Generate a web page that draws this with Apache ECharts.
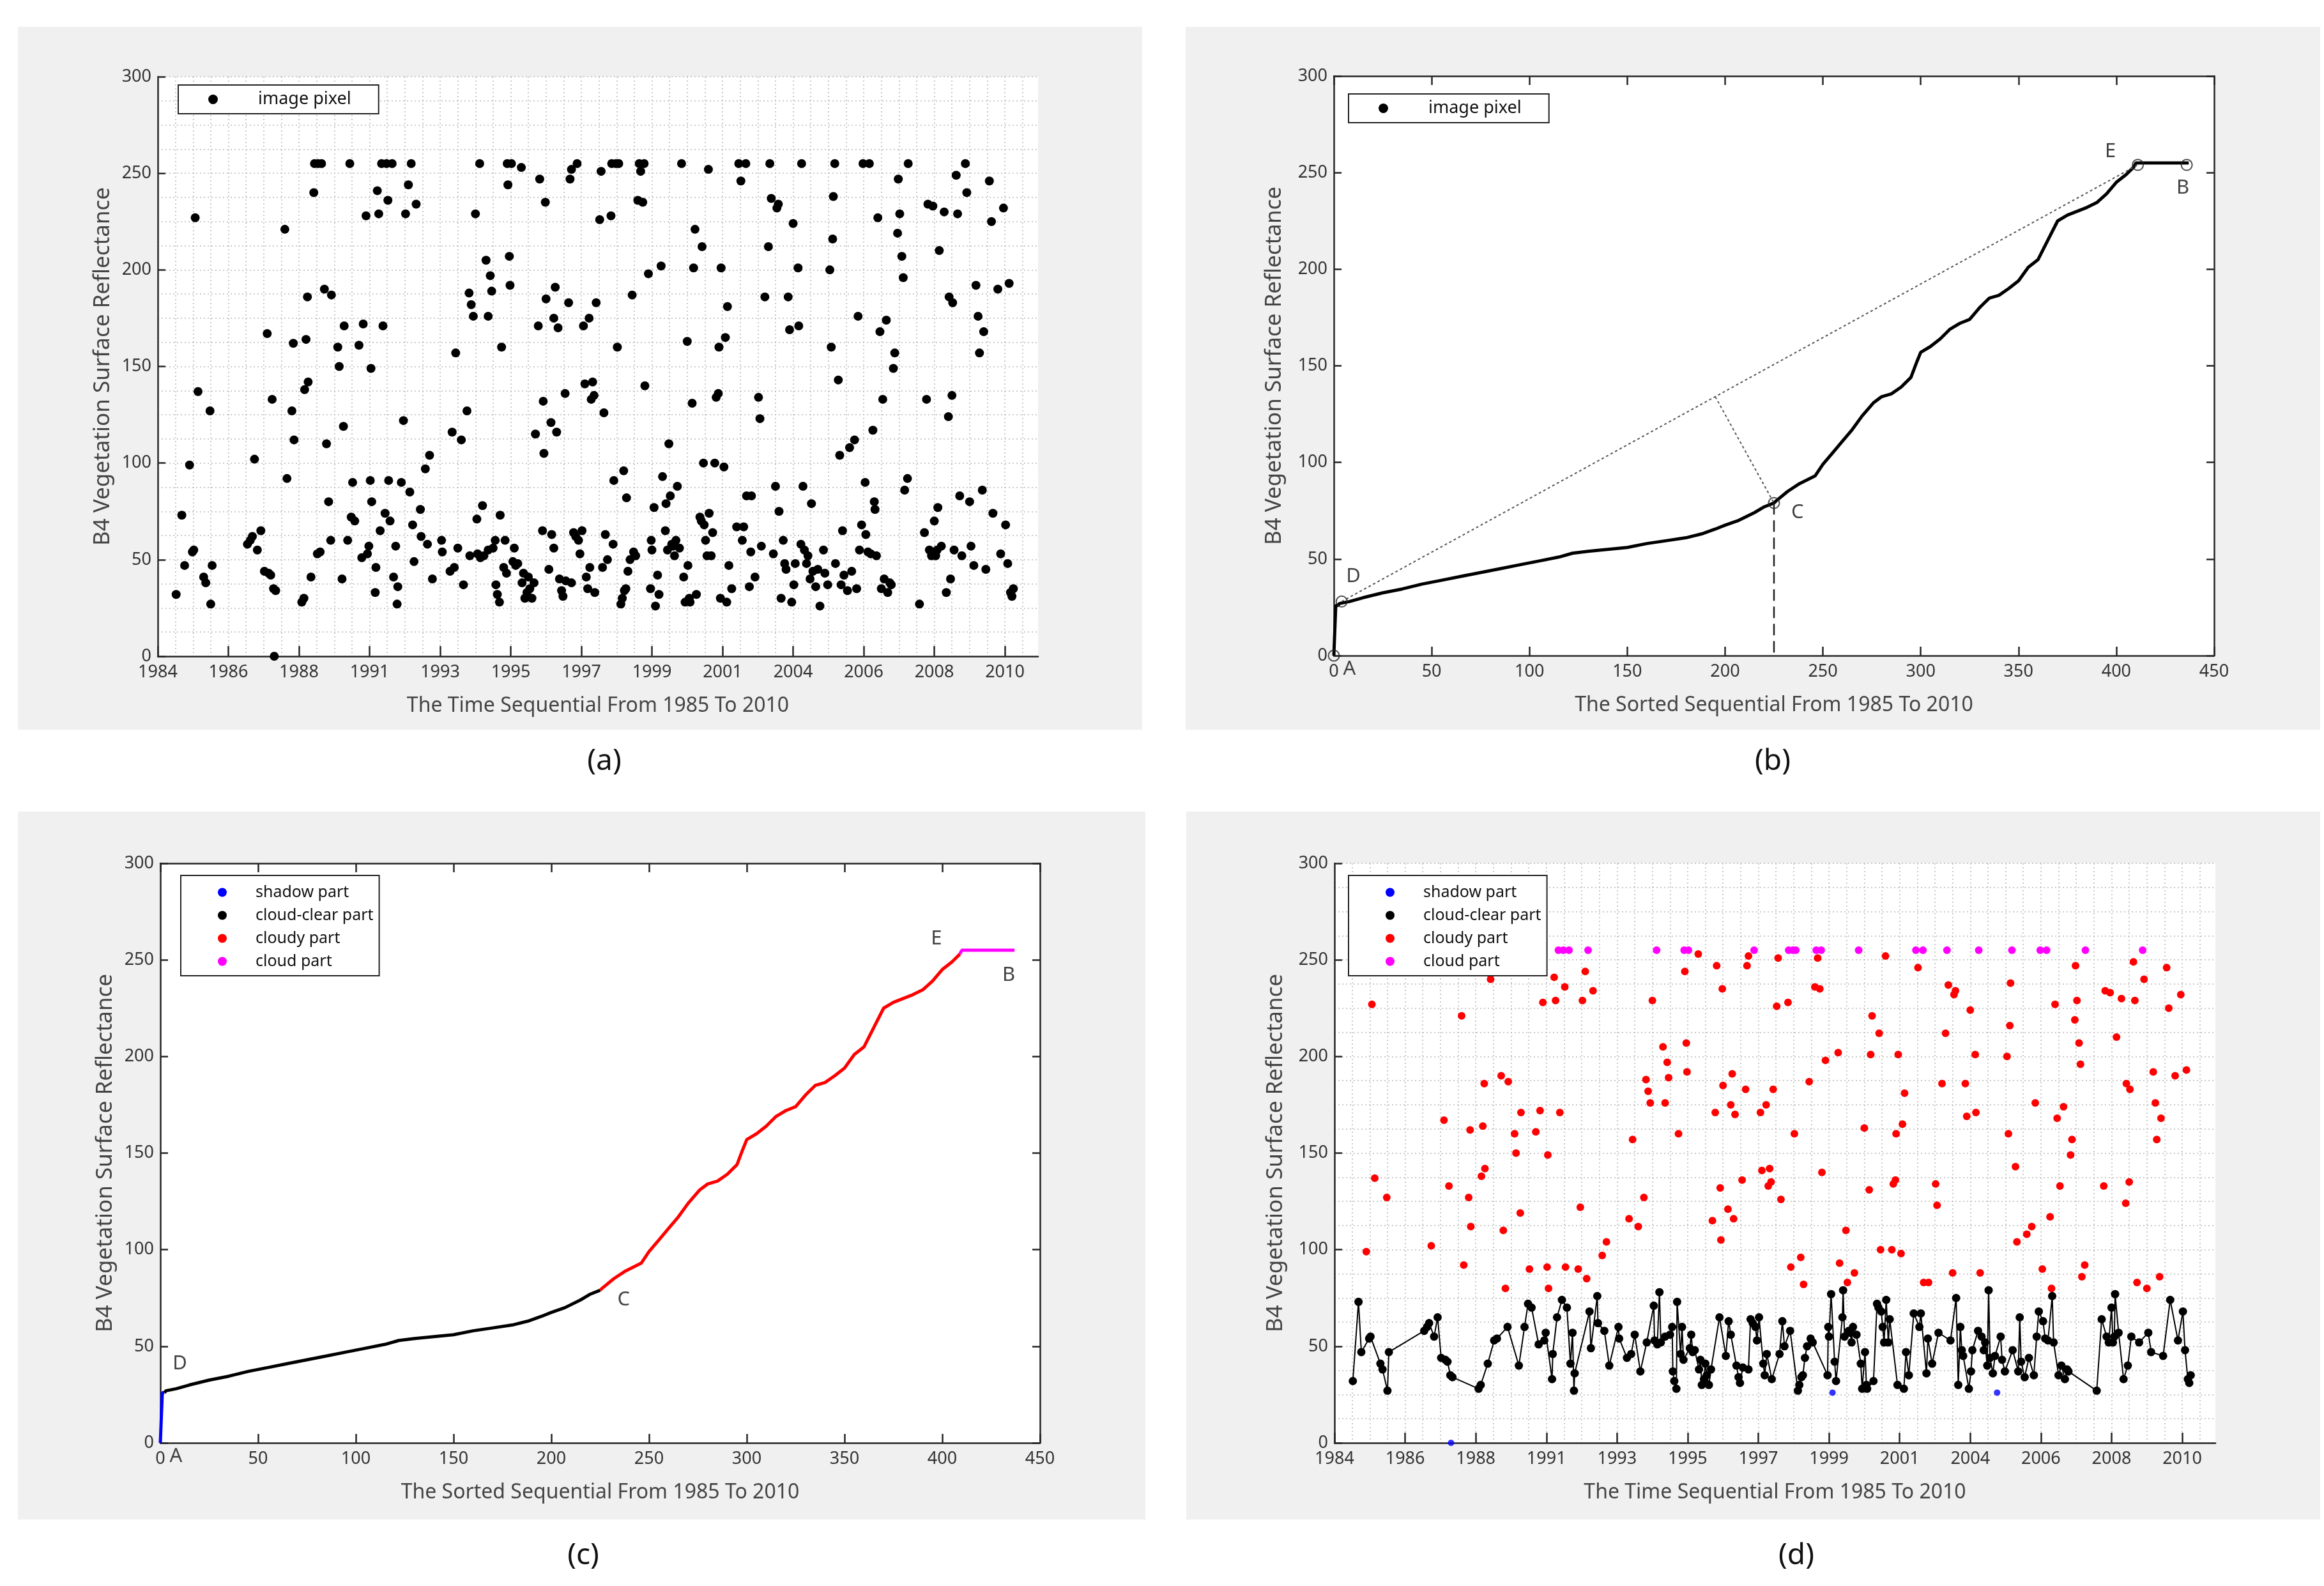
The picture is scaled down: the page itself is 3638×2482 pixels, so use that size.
<!DOCTYPE html>
<html>
<head>
<meta charset="utf-8">
<script src="https://cdn.jsdelivr.net/npm/echarts@6/dist/echarts.min.js"></script>
<style>
  html, body { margin: 0; background: #fff; }
  #chart { width: 3638px; height: 2482px; }
</style>
</head>
<body>
<div id="chart"></div>
<script>
// tick labels of the time axis (panels a and d)
const yearLabels = ['1984', '1986', '1988', '1991', '1993', '1995', '1997', '1999', '2001', '2004', '2006', '2008', '2010'];

// position of each image on the time axis (in tick steps) and its B4 reflectance
const tPos = [
  0.26, 0.34, 0.38, 0.45, 0.49, 0.51, 0.53, 0.57, 0.65, 0.68, 0.74, 0.75, 0.77,
  1.27, 1.31, 1.34, 1.37, 1.41, 1.46, 1.51, 1.55, 1.57, 1.60, 1.62, 1.64, 1.65, 1.67, 1.80, 1.83, 1.90, 1.92, 1.93,
  2.04, 2.07, 2.08, 2.10, 2.12, 2.13, 2.17, 2.21, 2.22, 2.26, 2.27, 2.30, 2.32, 2.36, 2.39, 2.42, 2.45, 2.46, 2.55, 2.57, 2.61, 2.63, 2.64, 2.69, 2.72, 2.74, 2.76, 2.79, 2.85, 2.89, 2.91, 2.95, 2.97, 2.99,
  3.01, 3.02, 3.03, 3.08, 3.09, 3.11, 3.13, 3.15, 3.17, 3.19, 3.22, 3.24, 3.26, 3.27, 3.29, 3.32, 3.34, 3.37, 3.39, 3.40, 3.45, 3.48, 3.51, 3.55, 3.57, 3.59, 3.61, 3.63, 3.66, 3.72, 3.73, 3.79, 3.82, 3.85, 3.89,
  4.02, 4.03, 4.14, 4.17, 4.20, 4.22, 4.25, 4.30, 4.33, 4.38, 4.41, 4.42, 4.44, 4.47, 4.50, 4.52, 4.53, 4.56, 4.57, 4.60, 4.62, 4.65, 4.68, 4.68, 4.71, 4.73, 4.75, 4.78, 4.79, 4.81, 4.84, 4.85, 4.87, 4.90, 4.92, 4.94, 4.95, 4.96, 4.98, 4.99,
  5.01, 5.03, 5.05, 5.07, 5.10, 5.15, 5.16, 5.18, 5.20, 5.23, 5.25, 5.27, 5.30, 5.33, 5.35, 5.39, 5.41, 5.45, 5.46, 5.47, 5.49, 5.50, 5.54, 5.57, 5.58, 5.61, 5.61, 5.63, 5.65, 5.67, 5.69, 5.72, 5.74, 5.77, 5.78, 5.82, 5.84, 5.86, 5.86, 5.89, 5.92, 5.94, 5.96, 5.98,
  6.01, 6.03, 6.05, 6.07, 6.09, 6.11, 6.12, 6.14, 6.16, 6.18, 6.19, 6.21, 6.26, 6.28, 6.30, 6.32, 6.34, 6.37, 6.42, 6.43, 6.45, 6.46, 6.49, 6.51, 6.53, 6.56, 6.58, 6.60, 6.61, 6.63, 6.64, 6.66, 6.69, 6.72, 6.74, 6.77, 6.80, 6.82, 6.84, 6.87, 6.89, 6.90, 6.95, 6.98, 6.99,
  7.00, 7.03, 7.05, 7.08, 7.10, 7.13, 7.15, 7.19, 7.20, 7.22, 7.24, 7.26, 7.28, 7.30, 7.32, 7.34, 7.36, 7.39, 7.42, 7.45, 7.47, 7.50, 7.51, 7.53, 7.54, 7.57, 7.59, 7.61, 7.63, 7.68, 7.70, 7.71, 7.73, 7.74, 7.76, 7.78, 7.80, 7.81, 7.84, 7.86, 7.89, 7.91, 7.94, 7.95, 7.97, 7.98,
  8.02, 8.04, 8.06, 8.07, 8.09, 8.13, 8.20, 8.23, 8.26, 8.28, 8.30, 8.33, 8.34, 8.38, 8.40, 8.41, 8.46, 8.51, 8.53, 8.55, 8.60, 8.65, 8.67, 8.69, 8.72, 8.75, 8.77, 8.79, 8.80, 8.83, 8.86, 8.88, 8.90, 8.93, 8.95, 8.98,
  9.00, 9.01, 9.03, 9.07, 9.08, 9.11, 9.12, 9.14, 9.16, 9.19, 9.21, 9.24, 9.26, 9.28, 9.32, 9.35, 9.38, 9.43, 9.45, 9.49, 9.52, 9.54, 9.56, 9.57, 9.59, 9.60, 9.64, 9.66, 9.68, 9.70, 9.72, 9.77, 9.80, 9.83, 9.87, 9.90, 9.92, 9.94, 9.97, 9.99,
  10.02, 10.03, 10.06, 10.08, 10.10, 10.13, 10.15, 10.16, 10.18, 10.20, 10.23, 10.25, 10.27, 10.29, 10.32, 10.34, 10.37, 10.39, 10.42, 10.44, 10.48, 10.49, 10.51, 10.54, 10.56, 10.58, 10.62, 10.63, 10.79, 10.86, 10.89, 10.91, 10.93, 10.96, 10.98,
  11.00, 11.02, 11.04, 11.05, 11.07, 11.10, 11.14, 11.17, 11.20, 11.21, 11.23, 11.25, 11.26, 11.28, 11.31, 11.33, 11.36, 11.39, 11.44, 11.46, 11.50, 11.52, 11.56, 11.59, 11.62, 11.64, 11.68, 11.70, 11.73, 11.78, 11.81, 11.83, 11.90, 11.94, 11.98, 12.01, 12.04, 12.06, 12.08, 12.10, 12.12
];
const refl = [
  32, 73, 47, 99, 54, 55, 227, 137, 41, 38, 127, 27, 47,
  58, 60, 62, 102, 55, 65, 44, 167, 43, 42, 133, 35, 0, 34, 221, 92, 127, 162, 112,
  28, 30, 138, 164, 186, 142, 41, 240, 255, 53, 255, 54, 255, 190, 110, 80, 60, 187, 160, 150, 40, 119, 171, 60, 255, 72, 90, 70, 161, 51, 172, 228, 53, 57,
  91, 149, 80, 33, 46, 241, 229, 65, 255, 171, 74, 255, 236, 91, 70, 255, 41, 57, 27, 36, 90, 122, 229, 244, 85, 255, 68, 49, 234, 76, 62, 97, 58, 104, 40,
  60, 54, 44, 116, 46, 157, 56, 112, 37, 127, 188, 52, 182, 176, 229, 71, 53, 255, 51, 78, 52, 205, 176, 55, 197, 189, 56, 60, 37, 32, 28, 73, 160, 46, 60, 43, 255, 244, 207, 192,
  255, 49, 56, 47, 48, 253, 38, 43, 30, 33, 41, 35, 30, 38, 115, 171, 247, 65, 132, 105, 235, 185, 45, 121, 63, 175, 56, 191, 116, 170, 40, 34, 31, 136, 39, 183, 247, 252, 38, 64, 62, 255, 60, 53,
  65, 171, 141, 41, 35, 175, 46, 133, 142, 135, 33, 183, 226, 251, 46, 126, 63, 50, 228, 255, 58, 91, 255, 160, 255, 27, 30, 96, 34, 35, 82, 44, 50, 187, 54, 52, 236, 255, 251, 235, 255, 140, 198, 35, 60,
  55, 77, 26, 42, 32, 202, 93, 65, 79, 55, 110, 83, 58, 57, 52, 60, 88, 56, 255, 41, 28, 163, 47, 30, 28, 131, 201, 221, 32, 72, 70, 212, 100, 68, 60, 52, 252, 74, 52, 64, 100, 134, 136, 160, 30, 201,
  98, 165, 28, 181, 47, 35, 67, 255, 246, 60, 67, 255, 83, 36, 54, 83, 41, 134, 123, 57, 186, 212, 255, 237, 53, 88, 232, 234, 75, 30, 60, 48, 45, 186, 169, 28,
  224, 37, 48, 201, 171, 58, 255, 88, 55, 48, 52, 40, 79, 44, 36, 45, 26, 55, 43, 37, 200, 160, 216, 238, 255, 48, 143, 104, 37, 65, 42, 34, 108, 44, 112, 35, 176, 55, 68, 255,
  90, 63, 54, 255, 53, 117, 80, 76, 52, 227, 168, 35, 133, 40, 174, 33, 38, 37, 149, 157, 219, 247, 229, 207, 196, 86, 92, 255, 27, 64, 133, 234, 55, 52, 233,
  70, 52, 55, 77, 210, 57, 230, 33, 124, 186, 40, 135, 183, 55, 249, 229, 83, 52, 255, 240, 80, 57, 47, 192, 176, 157, 86, 168, 45, 246, 225, 74, 190, 53, 232, 68, 48, 193, 33, 31, 35
];

// sorted sequence (panels b and c)
const sortIdx = [0, 1, 2, 3, 8, 15, 25, 35, 45, 55, 65, 75, 85, 95, 105, 115, 122, 130, 140, 150, 160, 170, 180, 188, 195, 200, 207, 215, 220, 225,
  226, 232, 238, 246, 250, 255, 260, 265, 270, 276, 280, 285, 290, 295, 298, 300, 305, 310, 315, 320, 325, 330, 335, 340, 345, 350, 355, 360, 365, 370,
  375, 380, 385, 390, 395, 400, 405, 409, 410, 437];
const sortVal = [0, 26, 26, 27, 28, 30, 32.5, 34.5, 37, 39, 41, 43, 45, 47, 49, 51, 53, 54, 55, 56, 58, 59.5, 61, 63, 65.5, 67.5, 70, 74, 77, 79,
  80, 85, 89, 93, 99, 105, 111, 117, 124, 131, 134, 135.5, 139, 144, 152, 157, 160, 164, 169, 172, 174, 180, 185, 186.5, 190, 194, 201, 205, 215, 225,
  228, 230, 232, 234.5, 239, 245, 249, 253, 255, 255];

// class thresholds read at D, C and E
const D_VAL = 27, C_VAL = 80, E_VAL = 255;
const partNames = ['shadow part', 'cloud-clear part', 'cloudy part', 'cloud part'];
const partColors = ['#0000ff', '#000000', '#ff0000', '#ff00ff'];

// key points of panel b
const keyX = [0, 4, 225, 411, 436];
const keyY = [0, 28, 79, 254, 254];
const footX = 195, footY = 134;
const labName = ['A', 'D', 'C', 'E', 'B'];
const labX = [8, 10, 237, 397, 434];
const labY = [-7, 41, 74, 261, 242];

const FONT = 'Noto Sans';
const AX = '#262626';
const dotted = { color: '#b9b9b9', type: [2, 4], width: 1.5 };

function classOf(v) {
  if (v < D_VAL) return 0;
  if (v < C_VAL) return 1;
  if (v < E_VAL) return 2;
  return 3;
}

function axisBase(gi, pos) {
  return {
    type: 'value', gridIndex: gi, position: pos,
    axisLine: { show: true, onZero: false, lineStyle: { color: AX, width: 2.5 } },
    axisTick: { show: true, inside: true, length: 14, lineStyle: { color: AX, width: 2.5 } },
    axisLabel: { show: true, color: '#333', fontFamily: FONT, fontSize: 27, margin: 12 },
    splitLine: { show: false },
    nameLocation: 'middle',
    nameTextStyle: { color: '#444', fontFamily: FONT, fontSize: 32 }
  };
}

function timeAxis(gi) {
  const a = axisBase(gi, 'bottom');
  a.min = 0; a.max = 12.47; a.interval = 1;
  a.name = 'The Time Sequential From 1985 To 2010';
  a.nameGap = 62;
  a.axisTick.length = 16;
  a.axisTick.customValues = yearLabels.map((_, i) => i);
  a.axisLabel.customValues = yearLabels.map((_, i) => i);
  a.axisLabel.formatter = function (v) {
    const i = Math.round(v);
    return Math.abs(v - i) < 1e-6 && yearLabels[i] ? yearLabels[i] : '';
  };
  a.splitLine = { show: true, lineStyle: dotted };
  a.minorTick = { show: false, splitNumber: 4 };
  a.minorSplitLine = { show: true, lineStyle: dotted };
  return a;
}

function sortedAxis(gi, pos) {
  const a = axisBase(gi, pos);
  a.min = 0; a.max = 450; a.interval = 50;
  if (pos === 'bottom') {
    a.name = 'The Sorted Sequential From 1985 To 2010';
    a.nameGap = 62;
  } else {
    a.axisLabel.show = false;
  }
  return a;
}

function reflAxis(gi, pos, gap, grid) {
  const a = axisBase(gi, pos);
  a.min = 0; a.max = 300; a.interval = 50;
  a.axisTick.length = 12;
  if (pos === 'left') {
    a.name = 'B4 Vegetation Surface Reflectance';
    a.nameGap = gap;
    a.nameTextStyle.fontSize = 35;
    a.axisLabel.margin = 10;
  } else {
    a.axisLabel.show = false;
  }
  if (grid) {
    a.splitLine = { show: true, lineStyle: dotted };
    a.minorTick = { show: false, splitNumber: 4 };
    a.minorSplitLine = { show: true, lineStyle: dotted };
  }
  return a;
}

function legendBox(left, top, names, dot, pad, textGap, fs, gap) {
  return {
    left: left, top: top, orient: 'vertical', selectedMode: false,
    data: names.map(n => ({ name: n, icon: 'circle' })),
    itemWidth: dot, itemHeight: dot, itemGap: gap, padding: pad,
    borderColor: '#222', borderWidth: 2, backgroundColor: '#fff',
    textStyle: { fontFamily: FONT, fontSize: fs, color: '#111', padding: [0, 0, 0, textGap] }
  };
}

const pixelPts = tPos.map((t, i) => [t, refl[i]]);
const sortedPts = sortIdx.map((x, i) => [x, sortVal[i]]);

// panel d: split by class, clear points joined in time order
const partPts = [[], [], [], []];
pixelPts.forEach(p => partPts[classOf(p[1])].push(p));
partPts[1].sort((a, b) => a[0] - b[0]);

// panel c: sorted curve split into coloured runs
function sortedRun(k) {
  let f = -1, l = -1;
  sortedPts.forEach((p, i) => { if (classOf(p[1]) === k) { if (f < 0) f = i; l = i; } });
  return sortedPts.slice(Math.max(f - 1, 0), l + 1);
}

function letters(xi, yi) {
  return {
    type: 'scatter', xAxisIndex: xi, yAxisIndex: yi, clip: false, z: 10,
    symbolSize: 1, itemStyle: { color: 'rgba(0,0,0,0)' }, silent: true,
    label: { show: true, position: 'inside', formatter: '{b}', fontFamily: FONT, fontSize: 31, color: '#111' },
    data: labName.map((n, i) => ({ name: n, value: [labX[i], labY[i]] }))
  };
}

const series = [];
// (a)
series.push({
  name: 'image pixel', type: 'scatter', xAxisIndex: 0, yAxisIndex: 0, clip: false,
  symbolSize: 14, itemStyle: { color: '#000', opacity: 1 }, data: pixelPts
});
// (b)
series.push({
  name: 'image pixel', type: 'line', xAxisIndex: 1, yAxisIndex: 1, showSymbol: false,
  itemStyle: { color: '#000' }, lineStyle: { color: '#000', width: 5 }, data: sortedPts, z: 3
});
series.push({
  type: 'line', xAxisIndex: 1, yAxisIndex: 1, showSymbol: false, silent: true,
  lineStyle: { color: '#555', width: 2, type: [4, 4] },
  data: [[keyX[1], keyY[1]], [keyX[3], keyY[3]]]
});
series.push({
  type: 'line', xAxisIndex: 1, yAxisIndex: 1, showSymbol: false, silent: true,
  lineStyle: { color: '#555', width: 2, type: [4, 4] },
  data: [[footX, footY], [keyX[2], keyY[2]]]
});
series.push({
  type: 'line', xAxisIndex: 1, yAxisIndex: 1, showSymbol: false, silent: true,
  lineStyle: { color: '#222', width: 2.5, type: [18, 9] },
  data: [[keyX[2], keyY[2]], [keyX[2], 0]]
});
series.push({
  type: 'scatter', xAxisIndex: 1, yAxisIndex: 1, clip: false, z: 5, symbolSize: 17,
  itemStyle: { color: 'rgba(255,255,255,0)', borderColor: '#222', borderWidth: 2 },
  data: keyX.map((x, i) => [x, keyY[i]])
});
series.push(letters(1, 1));
// (c)
partNames.forEach((n, k) => {
  series.push({
    name: n, type: 'line', xAxisIndex: 3, yAxisIndex: 3, showSymbol: false, clip: false,
    itemStyle: { color: partColors[k] }, lineStyle: { color: partColors[k], width: 5 },
    data: sortedRun(k)
  });
});
series.push(letters(3, 3));
// (d)
series.push({
  name: partNames[0], type: 'scatter', xAxisIndex: 5, yAxisIndex: 5, clip: false,
  symbolSize: 10, itemStyle: { color: partColors[0] }, data: partPts[0]
});
series.push({
  name: partNames[1], type: 'line', xAxisIndex: 5, yAxisIndex: 5, clip: false,
  symbol: 'circle', symbolSize: 13, showAllSymbol: true,
  itemStyle: { color: partColors[1] }, lineStyle: { color: '#000', width: 2 }, data: partPts[1]
});
series.push({
  name: partNames[2], type: 'scatter', xAxisIndex: 5, yAxisIndex: 5, clip: false,
  symbolSize: 12, itemStyle: { color: partColors[2], opacity: 1 }, data: partPts[2]
});
series.push({
  name: partNames[3], type: 'scatter', xAxisIndex: 5, yAxisIndex: 5, clip: false,
  symbolSize: 12, itemStyle: { color: partColors[3], opacity: 1 }, data: partPts[3]
});

function panelBg(x, y, w, h) {
  return { type: 'rect', z: -10, silent: true, shape: { x: x, y: y, width: w, height: h }, style: { fill: '#f0f0f0' } };
}
function caption(txt, x, y) {
  return { type: 'text', z: 10, x: x, y: y, silent: true,
    style: { text: txt, fontFamily: FONT, fontSize: 46, fill: '#111', align: 'center', verticalAlign: 'middle' } };
}

const chart = echarts.init(document.getElementById('chart'), null, { renderer: 'canvas' });
chart.setOption({
  animation: false,
  backgroundColor: '#fff',
  graphic: { elements: [
    panelBg(28, 42, 1760, 1100), panelBg(1856, 42, 1776, 1100),
    panelBg(28, 1270, 1765, 1108), panelBg(1857, 1270, 1775, 1108),
    caption('(a)', 946, 1192), caption('(b)', 2775, 1192),
    caption('(c)', 913, 2435), caption('(d)', 2812, 2435)
  ] },
  grid: [
    { left: 247, top: 120, width: 1378, height: 907 },
    { left: 2088, top: 119, width: 1378, height: 907 },
    { left: 251, top: 1351, width: 1377, height: 907 },
    { left: 2089, top: 1351, width: 1379, height: 907 }
  ].map(g => Object.assign({ show: true, backgroundColor: '#fff', borderWidth: 0 }, g)),
  xAxis: [timeAxis(0), sortedAxis(1, 'bottom'), sortedAxis(1, 'top'), sortedAxis(2, 'bottom'), sortedAxis(2, 'top'), timeAxis(3)],
  yAxis: [reflAxis(0, 'left', 68, true), reflAxis(1, 'left', 75, false), reflAxis(1, 'right', 0, false),
          reflAxis(2, 'left', 68, false), reflAxis(2, 'right', 0, false), reflAxis(3, 'left', 74, true)],
  legend: [
    legendBox(279, 133, ['image pixel'], 15, [9, 43, 9, 47], 58, 27, 10),
    legendBox(2111, 147, ['image pixel'], 15, [9, 43, 9, 47], 58, 27, 10),
    legendBox(283, 1370, partNames, 14, [14, 9, 10, 58], 40, 25, 11),
    legendBox(2111, 1370, partNames, 14, [14, 9, 10, 58], 40, 25, 11)
  ],
  series: series
});
</script>
</body>
</html>
